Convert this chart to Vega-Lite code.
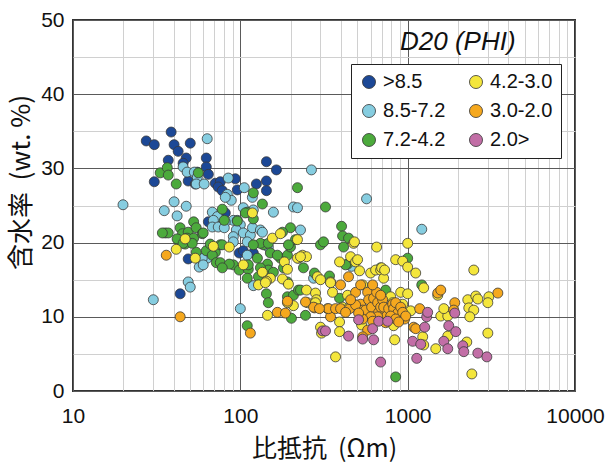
{
"$schema": "https://vega.github.io/schema/vega-lite/v6.json",
"width": 502, "height": 371,
"autosize": {"type": "none"},
"padding": {"left": 73, "top": 20, "right": 31, "bottom": 75},
"background": "white",
"title": {"text": "D20 (PHI)", "orient": "top", "anchor": "start", "frame": "group", "offset": 0, "dx": 327, "dy": 67, "baseline": "alphabetic", "font": "Liberation Sans", "fontSize": 26, "fontStyle": "italic", "fontWeight": "normal", "color": "#111"},
"data": {"values": [
{"res":27.4,"wc":33.7,"d20":">8.5"},{"res":30.6,"wc":33.2,"d20":">8.5"},{"res":38.6,"wc":34.9,"d20":">8.5"},{"res":40.2,"wc":33.2,"d20":">8.5"},{"res":42.5,"wc":32.3,"d20":">8.5"},{"res":50.2,"wc":33.4,"d20":">8.5"},{"res":37.1,"wc":31.1,"d20":">8.5"},{"res":47.5,"wc":31.4,"d20":">8.5"},{"res":45.5,"wc":30.7,"d20":">8.5"},{"res":62.6,"wc":31.4,"d20":">8.5"},{"res":62.6,"wc":30.2,"d20":">8.5"},{"res":64.4,"wc":29.2,"d20":">8.5"},{"res":55.3,"wc":29.5,"d20":">8.5"},{"res":30.6,"wc":28.2,"d20":">8.5"},{"res":48.8,"wc":28.3,"d20":">8.5"},{"res":53.8,"wc":27.9,"d20":">8.5"},{"res":70.9,"wc":28.0,"d20":">8.5"},{"res":75.9,"wc":28.2,"d20":">8.5"},{"res":73.8,"wc":27.5,"d20":">8.5"},{"res":78.0,"wc":27.0,"d20":">8.5"},{"res":93.3,"wc":28.6,"d20":">8.5"},{"res":95.9,"wc":27.1,"d20":">8.5"},{"res":124.7,"wc":27.9,"d20":">8.5"},{"res":143.2,"wc":30.9,"d20":">8.5"},{"res":164.3,"wc":29.8,"d20":">8.5"},{"res":143.2,"wc":28.3,"d20":">8.5"},{"res":143.2,"wc":27.0,"d20":">8.5"},{"res":64.4,"wc":22.8,"d20":">8.5"},{"res":81.3,"wc":24.0,"d20":">8.5"},{"res":48.8,"wc":17.8,"d20":">8.5"},{"res":43.7,"wc":13.1,"d20":">8.5"},{"res":98.6,"wc":18.6,"d20":">8.5"},{"res":104.2,"wc":18.9,"d20":">8.5"},{"res":119.6,"wc":18.6,"d20":">8.5"},
{"res":19.9,"wc":25.1,"d20":"8.5-7.2"},{"res":63.4,"wc":34.0,"d20":"8.5-7.2"},{"res":45.5,"wc":30.2,"d20":"8.5-7.2"},{"res":48.1,"wc":29.5,"d20":"8.5-7.2"},{"res":53.1,"wc":29.5,"d20":"8.5-7.2"},{"res":55.3,"wc":28.8,"d20":"8.5-7.2"},{"res":54.5,"wc":27.9,"d20":"8.5-7.2"},{"res":84.7,"wc":28.7,"d20":"8.5-7.2"},{"res":105.6,"wc":27.4,"d20":"8.5-7.2"},{"res":83.6,"wc":26.5,"d20":"8.5-7.2"},{"res":88.3,"wc":25.7,"d20":"8.5-7.2"},{"res":40.2,"wc":25.5,"d20":"8.5-7.2"},{"res":35.1,"wc":24.3,"d20":"8.5-7.2"},{"res":41.9,"wc":23.6,"d20":"8.5-7.2"},{"res":47.5,"wc":24.9,"d20":"8.5-7.2"},{"res":68.0,"wc":24.1,"d20":"8.5-7.2"},{"res":72.9,"wc":23.5,"d20":"8.5-7.2"},{"res":157.6,"wc":24.1,"d20":"8.5-7.2"},{"res":90.8,"wc":23.0,"d20":"8.5-7.2"},{"res":104.2,"wc":24.7,"d20":"8.5-7.2"},{"res":119.6,"wc":24.4,"d20":"8.5-7.2"},{"res":266,"wc":29.8,"d20":"8.5-7.2"},{"res":568,"wc":25.9,"d20":"8.5-7.2"},{"res":1214,"wc":21.8,"d20":"8.5-7.2"},{"res":60.8,"wc":27.9,"d20":"8.5-7.2"},{"res":58.4,"wc":17.4,"d20":"8.5-7.2"},{"res":56.8,"wc":16.7,"d20":"8.5-7.2"},{"res":63.4,"wc":17.9,"d20":"8.5-7.2"},{"res":81.3,"wc":26.1,"d20":"8.5-7.2"},{"res":118,"wc":26.1,"d20":"8.5-7.2"},{"res":69.0,"wc":23.0,"d20":"8.5-7.2"},{"res":81.3,"wc":22.8,"d20":"8.5-7.2"},{"res":68.0,"wc":22.1,"d20":"8.5-7.2"},{"res":73.8,"wc":22.1,"d20":"8.5-7.2"},{"res":80.2,"wc":22.0,"d20":"8.5-7.2"},{"res":95.9,"wc":23.0,"d20":"8.5-7.2"},{"res":100,"wc":22.4,"d20":"8.5-7.2"},{"res":94.6,"wc":21.7,"d20":"8.5-7.2"},{"res":104.2,"wc":21.3,"d20":"8.5-7.2"},{"res":114.8,"wc":21.0,"d20":"8.5-7.2"},{"res":118.2,"wc":22.0,"d20":"8.5-7.2"},{"res":131.8,"wc":21.7,"d20":"8.5-7.2"},{"res":135.5,"wc":21.4,"d20":"8.5-7.2"},{"res":90.8,"wc":20.8,"d20":"8.5-7.2"},{"res":90.8,"wc":20.1,"d20":"8.5-7.2"},{"res":110,"wc":20.1,"d20":"8.5-7.2"},{"res":141.2,"wc":19.7,"d20":"8.5-7.2"},{"res":147,"wc":19.4,"d20":"8.5-7.2"},{"res":59.2,"wc":17.9,"d20":"8.5-7.2"},{"res":60.0,"wc":17.0,"d20":"8.5-7.2"},{"res":207.6,"wc":24.8,"d20":"8.5-7.2"},{"res":228.8,"wc":21.7,"d20":"8.5-7.2"},{"res":219.5,"wc":24.7,"d20":"8.5-7.2"},{"res":462,"wc":16.8,"d20":"8.5-7.2"},{"res":30.2,"wc":12.3,"d20":"8.5-7.2"},{"res":48.8,"wc":14.7,"d20":"8.5-7.2"},{"res":50.2,"wc":14.0,"d20":"8.5-7.2"},{"res":100,"wc":11.1,"d20":"8.5-7.2"},{"res":119.6,"wc":14.2,"d20":"8.5-7.2"},{"res":110,"wc":18.3,"d20":"8.5-7.2"},{"res":274,"wc":15.2,"d20":"8.5-7.2"},
{"res":33.2,"wc":29.4,"d20":"7.2-4.2"},{"res":36.6,"wc":30.1,"d20":"7.2-4.2"},{"res":37.1,"wc":29.1,"d20":"7.2-4.2"},{"res":41.4,"wc":27.9,"d20":"7.2-4.2"},{"res":56.1,"wc":29.4,"d20":"7.2-4.2"},{"res":119.6,"wc":26.7,"d20":"7.2-4.2"},{"res":135.5,"wc":25.2,"d20":"7.2-4.2"},{"res":78.0,"wc":24.5,"d20":"7.2-4.2"},{"res":80.2,"wc":23.0,"d20":"7.2-4.2"},{"res":95.9,"wc":22.9,"d20":"7.2-4.2"},{"res":110,"wc":24.1,"d20":"7.2-4.2"},{"res":119.6,"wc":23.2,"d20":"7.2-4.2"},{"res":219.5,"wc":27.4,"d20":"7.2-4.2"},{"res":322.9,"wc":24.8,"d20":"7.2-4.2"},{"res":402.7,"wc":22.2,"d20":"7.2-4.2"},{"res":52.6,"wc":22.8,"d20":"7.2-4.2"},{"res":43.7,"wc":22.0,"d20":"7.2-4.2"},{"res":35.6,"wc":21.3,"d20":"7.2-4.2"},{"res":37.1,"wc":21.3,"d20":"7.2-4.2"},{"res":45.1,"wc":21.2,"d20":"7.2-4.2"},{"res":48.8,"wc":21.4,"d20":"7.2-4.2"},{"res":54.5,"wc":22.0,"d20":"7.2-4.2"},{"res":48.1,"wc":20.6,"d20":"7.2-4.2"},{"res":52.6,"wc":20.6,"d20":"7.2-4.2"},{"res":59.2,"wc":21.2,"d20":"7.2-4.2"},{"res":42.5,"wc":20.4,"d20":"7.2-4.2"},{"res":46.8,"wc":19.8,"d20":"7.2-4.2"},{"res":54.5,"wc":18.7,"d20":"7.2-4.2"},{"res":62.6,"wc":18.9,"d20":"7.2-4.2"},{"res":66.1,"wc":19.8,"d20":"7.2-4.2"},{"res":34.2,"wc":21.3,"d20":"7.2-4.2"},{"res":41.9,"wc":20.5,"d20":"7.2-4.2"},{"res":45.5,"wc":19.9,"d20":"7.2-4.2"},{"res":51.6,"wc":19.9,"d20":"7.2-4.2"},{"res":70.9,"wc":18.7,"d20":"7.2-4.2"},{"res":68.0,"wc":18.3,"d20":"7.2-4.2"},{"res":75.9,"wc":19.7,"d20":"7.2-4.2"},{"res":71.9,"wc":17.3,"d20":"7.2-4.2"},{"res":75.9,"wc":17.3,"d20":"7.2-4.2"},{"res":90.8,"wc":17.0,"d20":"7.2-4.2"},{"res":85.9,"wc":17.1,"d20":"7.2-4.2"},{"res":98.6,"wc":16.3,"d20":"7.2-4.2"},{"res":111.6,"wc":16.4,"d20":"7.2-4.2"},{"res":110,"wc":15.2,"d20":"7.2-4.2"},{"res":126.5,"wc":17.9,"d20":"7.2-4.2"},{"res":128.3,"wc":15.4,"d20":"7.2-4.2"},{"res":137.3,"wc":19.7,"d20":"7.2-4.2"},{"res":145.3,"wc":17.1,"d20":"7.2-4.2"},{"res":147,"wc":16.3,"d20":"7.2-4.2"},{"res":157.6,"wc":16.0,"d20":"7.2-4.2"},{"res":143.2,"wc":13.1,"d20":"7.2-4.2"},{"res":147,"wc":11.9,"d20":"7.2-4.2"},{"res":173.6,"wc":17.9,"d20":"7.2-4.2"},{"res":191.2,"wc":18.3,"d20":"7.2-4.2"},{"res":181,"wc":16.6,"d20":"7.2-4.2"},{"res":191.2,"wc":14.7,"d20":"7.2-4.2"},{"res":199.3,"wc":19.4,"d20":"7.2-4.2"},{"res":213.5,"wc":20.4,"d20":"7.2-4.2"},{"res":191.2,"wc":12.7,"d20":"7.2-4.2"},{"res":207.6,"wc":12.9,"d20":"7.2-4.2"},{"res":222.5,"wc":13.6,"d20":"7.2-4.2"},{"res":202,"wc":9.8,"d20":"7.2-4.2"},{"res":110,"wc":8.8,"d20":"7.2-4.2"},{"res":408.3,"wc":20.9,"d20":"7.2-4.2"},{"res":443.3,"wc":20.6,"d20":"7.2-4.2"},{"res":301.4,"wc":19.7,"d20":"7.2-4.2"},{"res":314.1,"wc":20.1,"d20":"7.2-4.2"},{"res":414,"wc":19.4,"d20":"7.2-4.2"},{"res":437.4,"wc":17.1,"d20":"7.2-4.2"},{"res":238.3,"wc":16.6,"d20":"7.2-4.2"},{"res":277.4,"wc":15.9,"d20":"7.2-4.2"},{"res":341,"wc":15.5,"d20":"7.2-4.2"},{"res":228.8,"wc":13.6,"d20":"7.2-4.2"},{"res":391.7,"wc":12.5,"d20":"7.2-4.2"},{"res":689.4,"wc":16.6,"d20":"7.2-4.2"},{"res":738.6,"wc":13.6,"d20":"7.2-4.2"},{"res":1000,"wc":17.9,"d20":"7.2-4.2"},{"res":475,"wc":11.7,"d20":"7.2-4.2"},{"res":1214,"wc":14.3,"d20":"7.2-4.2"},{"res":245.1,"wc":10.2,"d20":"7.2-4.2"},{"res":847.8,"wc":1.9,"d20":"7.2-4.2"},{"res":107.1,"wc":24.0,"d20":"7.2-4.2"},{"res":60.0,"wc":21.3,"d20":"7.2-4.2"},{"res":78.0,"wc":19.7,"d20":"7.2-4.2"},{"res":131.8,"wc":19.9,"d20":"7.2-4.2"},{"res":147,"wc":19.9,"d20":"7.2-4.2"},{"res":193.9,"wc":19.7,"d20":"7.2-4.2"},{"res":199.3,"wc":22.0,"d20":"7.2-4.2"},{"res":178.5,"wc":21.4,"d20":"7.2-4.2"},{"res":151.2,"wc":18.6,"d20":"7.2-4.2"},{"res":166.5,"wc":18.3,"d20":"7.2-4.2"},{"res":78.0,"wc":16.6,"d20":"7.2-4.2"},{"res":111.6,"wc":17.0,"d20":"7.2-4.2"},{"res":131.8,"wc":16.6,"d20":"7.2-4.2"},{"res":119.6,"wc":19.7,"d20":"7.2-4.2"},{"res":222.5,"wc":17.9,"d20":"7.2-4.2"},{"res":425.5,"wc":17.0,"d20":"7.2-4.2"},
{"res":118.1,"wc":24.0,"d20":"4.2-3.0"},{"res":46.8,"wc":20.5,"d20":"4.2-3.0"},{"res":41.4,"wc":19.1,"d20":"4.2-3.0"},{"res":53.8,"wc":17.9,"d20":"4.2-3.0"},{"res":69.0,"wc":19.5,"d20":"4.2-3.0"},{"res":85.9,"wc":19.4,"d20":"4.2-3.0"},{"res":104.2,"wc":17.0,"d20":"4.2-3.0"},{"res":135.5,"wc":16.0,"d20":"4.2-3.0"},{"res":151.2,"wc":15.2,"d20":"4.2-3.0"},{"res":143.2,"wc":14.8,"d20":"4.2-3.0"},{"res":128.3,"wc":14.3,"d20":"4.2-3.0"},{"res":178.5,"wc":15.1,"d20":"4.2-3.0"},{"res":193.9,"wc":14.4,"d20":"4.2-3.0"},{"res":183.4,"wc":17.4,"d20":"4.2-3.0"},{"res":191.2,"wc":16.4,"d20":"4.2-3.0"},{"res":155.4,"wc":20.6,"d20":"4.2-3.0"},{"res":173.6,"wc":21.2,"d20":"4.2-3.0"},{"res":219.5,"wc":20.4,"d20":"4.2-3.0"},{"res":219.5,"wc":17.9,"d20":"4.2-3.0"},{"res":145.3,"wc":10.2,"d20":"4.2-3.0"},{"res":207.6,"wc":11.5,"d20":"4.2-3.0"},{"res":191.2,"wc":11.9,"d20":"4.2-3.0"},{"res":235.2,"wc":18.3,"d20":"4.2-3.0"},{"res":248.5,"wc":18.1,"d20":"4.2-3.0"},{"res":475,"wc":19.9,"d20":"4.2-3.0"},{"res":652.5,"wc":19.4,"d20":"4.2-3.0"},{"res":1000,"wc":19.9,"d20":"4.2-3.0"},{"res":391.7,"wc":17.4,"d20":"4.2-3.0"},{"res":455.9,"wc":18.1,"d20":"4.2-3.0"},{"res":488.4,"wc":17.4,"d20":"4.2-3.0"},{"res":516,"wc":16.2,"d20":"4.2-3.0"},{"res":600.6,"wc":15.9,"d20":"4.2-3.0"},{"res":643.5,"wc":16.3,"d20":"4.2-3.0"},{"res":689.4,"wc":16.3,"d20":"4.2-3.0"},{"res":718.5,"wc":15.2,"d20":"4.2-3.0"},{"res":847.8,"wc":17.7,"d20":"4.2-3.0"},{"res":934,"wc":17.5,"d20":"4.2-3.0"},{"res":1000,"wc":16.7,"d20":"4.2-3.0"},{"res":1117,"wc":15.9,"d20":"4.2-3.0"},{"res":1247,"wc":13.9,"d20":"4.2-3.0"},{"res":289,"wc":15.4,"d20":"4.2-3.0"},{"res":301.4,"wc":15.0,"d20":"4.2-3.0"},{"res":345.9,"wc":14.7,"d20":"4.2-3.0"},{"res":355.6,"wc":13.3,"d20":"4.2-3.0"},{"res":248.5,"wc":13.6,"d20":"4.2-3.0"},{"res":281.3,"wc":13.2,"d20":"4.2-3.0"},{"res":285,"wc":12.3,"d20":"4.2-3.0"},{"res":252,"wc":11.9,"d20":"4.2-3.0"},{"res":908.3,"wc":13.3,"d20":"4.2-3.0"},{"res":1000,"wc":13.1,"d20":"4.2-3.0"},{"res":791.3,"wc":12.7,"d20":"4.2-3.0"},{"res":813.5,"wc":11.9,"d20":"4.2-3.0"},{"res":538,"wc":14.3,"d20":"4.2-3.0"},{"res":408.3,"wc":11.3,"d20":"4.2-3.0"},{"res":332,"wc":11.1,"d20":"4.2-3.0"},{"res":443.3,"wc":11.2,"d20":"4.2-3.0"},{"res":934,"wc":11.7,"d20":"4.2-3.0"},{"res":1042,"wc":10.8,"d20":"4.2-3.0"},{"res":1577,"wc":10.1,"d20":"4.2-3.0"},{"res":1736,"wc":10.1,"d20":"4.2-3.0"},{"res":1644,"wc":11.1,"d20":"4.2-3.0"},{"res":1513,"wc":12.9,"d20":"4.2-3.0"},{"res":2287,"wc":12.3,"d20":"4.2-3.0"},{"res":2319,"wc":11.2,"d20":"4.2-3.0"},{"res":2484,"wc":10.9,"d20":"4.2-3.0"},{"res":2554,"wc":12.8,"d20":"4.2-3.0"},{"res":2626,"wc":12.4,"d20":"4.2-3.0"},{"res":3056,"wc":12.7,"d20":"4.2-3.0"},{"res":3014,"wc":11.9,"d20":"4.2-3.0"},{"res":2351,"wc":10.0,"d20":"4.2-3.0"},{"res":2484,"wc":16.3,"d20":"4.2-3.0"},{"res":301.4,"wc":8.6,"d20":"4.2-3.0"},{"res":391.7,"wc":9.3,"d20":"4.2-3.0"},{"res":391.7,"wc":8.0,"d20":"4.2-3.0"},{"res":824.5,"wc":8.8,"d20":"4.2-3.0"},{"res":530.6,"wc":8.9,"d20":"4.2-3.0"},{"res":836,"wc":6.9,"d20":"4.2-3.0"},{"res":1230,"wc":7.3,"d20":"4.2-3.0"},{"res":1736,"wc":7.4,"d20":"4.2-3.0"},{"res":1472,"wc":5.7,"d20":"4.2-3.0"},{"res":2256,"wc":6.6,"d20":"4.2-3.0"},{"res":3014,"wc":7.8,"d20":"4.2-3.0"},{"res":370.7,"wc":4.6,"d20":"4.2-3.0"},{"res":2418,"wc":2.3,"d20":"4.2-3.0"},{"res":1247,"wc":6.2,"d20":"4.2-3.0"},{"res":141.2,"wc":14.6,"d20":"4.2-3.0"},{"res":228.8,"wc":18.1,"d20":"4.2-3.0"},{"res":481,"wc":20.1,"d20":"4.2-3.0"},{"res":502,"wc":17.7,"d20":"4.2-3.0"},{"res":699,"wc":16.6,"d20":"4.2-3.0"},{"res":345.9,"wc":14.6,"d20":"4.2-3.0"},{"res":281.3,"wc":11.9,"d20":"4.2-3.0"},{"res":437.4,"wc":12.9,"d20":"4.2-3.0"},{"res":728,"wc":16.3,"d20":"4.2-3.0"},{"res":305.6,"wc":7.8,"d20":"4.2-3.0"},
{"res":36.1,"wc":18.3,"d20":"3.0-2.0"},{"res":43.7,"wc":10.0,"d20":"3.0-2.0"},{"res":114.8,"wc":7.8,"d20":"3.0-2.0"},{"res":166.5,"wc":10.6,"d20":"3.0-2.0"},{"res":186,"wc":10.5,"d20":"3.0-2.0"},{"res":191.2,"wc":12.1,"d20":"3.0-2.0"},{"res":277.4,"wc":11.2,"d20":"3.0-2.0"},{"res":345.9,"wc":10.0,"d20":"3.0-2.0"},{"res":336.5,"wc":11.1,"d20":"3.0-2.0"},{"res":370.7,"wc":11.1,"d20":"3.0-2.0"},{"res":397.2,"wc":11.1,"d20":"3.0-2.0"},{"res":449.6,"wc":11.1,"d20":"3.0-2.0"},{"res":443.3,"wc":15.4,"d20":"3.0-2.0"},{"res":488.4,"wc":13.3,"d20":"3.0-2.0"},{"res":523.3,"wc":11.7,"d20":"3.0-2.0"},{"res":538,"wc":10.9,"d20":"3.0-2.0"},{"res":545.6,"wc":10.0,"d20":"3.0-2.0"},{"res":560.6,"wc":10.9,"d20":"3.0-2.0"},{"res":576.4,"wc":13.3,"d20":"3.0-2.0"},{"res":584.4,"wc":12.3,"d20":"3.0-2.0"},{"res":609,"wc":11.3,"d20":"3.0-2.0"},{"res":626,"wc":12.5,"d20":"3.0-2.0"},{"res":652.5,"wc":13.3,"d20":"3.0-2.0"},{"res":661.6,"wc":11.9,"d20":"3.0-2.0"},{"res":670.9,"wc":10.6,"d20":"3.0-2.0"},{"res":689.4,"wc":11.3,"d20":"3.0-2.0"},{"res":708.7,"wc":12.3,"d20":"3.0-2.0"},{"res":718.5,"wc":11.3,"d20":"3.0-2.0"},{"res":748.9,"wc":10.1,"d20":"3.0-2.0"},{"res":769.9,"wc":11.1,"d20":"3.0-2.0"},{"res":813.5,"wc":11.7,"d20":"3.0-2.0"},{"res":824.5,"wc":11.1,"d20":"3.0-2.0"},{"res":847.8,"wc":11.9,"d20":"3.0-2.0"},{"res":871.5,"wc":10.5,"d20":"3.0-2.0"},{"res":908.3,"wc":11.3,"d20":"3.0-2.0"},{"res":934,"wc":10.6,"d20":"3.0-2.0"},{"res":960,"wc":9.7,"d20":"3.0-2.0"},{"res":973.1,"wc":10.1,"d20":"3.0-2.0"},{"res":661.6,"wc":10.0,"d20":"3.0-2.0"},{"res":791.3,"wc":10.1,"d20":"3.0-2.0"},{"res":600.6,"wc":10.0,"d20":"3.0-2.0"},{"res":538,"wc":9.7,"d20":"3.0-2.0"},{"res":1086,"wc":8.6,"d20":"3.0-2.0"},{"res":1117,"wc":8.4,"d20":"3.0-2.0"},{"res":576.4,"wc":8.2,"d20":"3.0-2.0"},{"res":538,"wc":7.3,"d20":"3.0-2.0"},{"res":1513,"wc":13.2,"d20":"3.0-2.0"},{"res":1577,"wc":13.6,"d20":"3.0-2.0"},{"res":1912,"wc":11.9,"d20":"3.0-2.0"},{"res":1886,"wc":10.9,"d20":"3.0-2.0"},{"res":3459,"wc":13.2,"d20":"3.0-2.0"},{"res":274,"wc":11.3,"d20":"3.0-2.0"},{"res":245.1,"wc":12.0,"d20":"3.0-2.0"},{"res":297,"wc":11.1,"d20":"3.0-2.0"},{"res":397.2,"wc":14.3,"d20":"3.0-2.0"},{"res":523.3,"wc":14.3,"d20":"3.0-2.0"},{"res":1180,"wc":11.1,"d20":"3.0-2.0"},{"res":425.5,"wc":10.6,"d20":"3.0-2.0"},{"res":488.4,"wc":11.6,"d20":"3.0-2.0"},{"res":509,"wc":10.5,"d20":"3.0-2.0"},{"res":617.5,"wc":9.4,"d20":"3.0-2.0"},{"res":738.6,"wc":9.2,"d20":"3.0-2.0"},{"res":847.8,"wc":9.7,"d20":"3.0-2.0"},{"res":455.9,"wc":12.3,"d20":"3.0-2.0"},{"res":617.5,"wc":14.3,"d20":"3.0-2.0"},{"res":689.4,"wc":12.9,"d20":"3.0-2.0"},{"res":883,"wc":9.3,"d20":"3.0-2.0"},
{"res":310,"wc":8.1,"d20":"2.0>"},{"res":322.9,"wc":8.1,"d20":"2.0>"},{"res":443.3,"wc":7.4,"d20":"2.0>"},{"res":509,"wc":9.6,"d20":"2.0>"},{"res":538,"wc":7.0,"d20":"2.0>"},{"res":617.5,"wc":8.4,"d20":"2.0>"},{"res":626,"wc":6.9,"d20":"2.0>"},{"res":670.9,"wc":9.4,"d20":"2.0>"},{"res":689.4,"wc":3.9,"d20":"2.0>"},{"res":759,"wc":9.4,"d20":"2.0>"},{"res":1071,"wc":6.7,"d20":"2.0>"},{"res":1197,"wc":6.3,"d20":"2.0>"},{"res":1264,"wc":8.6,"d20":"2.0>"},{"res":1299,"wc":10.0,"d20":"2.0>"},{"res":1317,"wc":10.6,"d20":"2.0>"},{"res":1133,"wc":4.4,"d20":"2.0>"},{"res":1644,"wc":6.7,"d20":"2.0>"},{"res":1736,"wc":5.7,"d20":"2.0>"},{"res":1760,"wc":8.8,"d20":"2.0>"},{"res":1912,"wc":10.5,"d20":"2.0>"},{"res":1939,"wc":8.0,"d20":"2.0>"},{"res":2135,"wc":6.1,"d20":"2.0>"},{"res":2165,"wc":5.3,"d20":"2.0>"},{"res":2626,"wc":5.1,"d20":"2.0>"},{"res":2973,"wc":4.6,"d20":"2.0>"}
]},
"mark": {"type": "circle", "size": 100, "stroke": "#3a3a3a", "strokeWidth": 0.8, "opacity": 1},
"encoding": {
  "x": {"field": "res", "type": "quantitative", "title": "比抵抗\u00a0\u00a0(Ωm)",
    "scale": {"type": "log", "domain": [10, 10000], "nice": false},
    "axis": {"values": [10,20,30,40,50,60,70,80,90,100,200,300,400,500,600,700,800,900,1000,2000,3000,4000,5000,6000,7000,8000,9000,10000],
      "format": "d", "labelExpr": "indexof([10,100,1000,10000], datum.value) >= 0 ? datum.label : ''",
      "gridColor": {"condition": {"test": "indexof([10,100,1000,10000], datum.value) >= 0", "value": "#5a5a5a"}, "value": "#d0d0d0"},
      "labelFlush": false, "labelOverlap": false, "labelPadding": 14, "titlePadding": 10, "titleFontSize": 25}},
  "y": {"field": "wc", "type": "quantitative", "title": "含水率\u00a0\u00a0(wt.\u00a0%)",
    "scale": {"domain": [0, 50], "nice": false},
    "axis": {"values": [0,5,10,15,20,25,30,35,40,45,50],
      "labelExpr": "datum.value % 10 === 0 ? datum.label : ''",
      "gridColor": {"condition": {"test": "datum.value % 10 === 0", "value": "#5a5a5a"}, "value": "#d0d0d0"},
      "labelFlush": false, "labelOverlap": false, "labelPadding": 9, "titlePadding": 6, "titleY": 162}},
  "color": {"field": "d20", "type": "nominal",
    "scale": {"domain": [">8.5", "8.5-7.2", "7.2-4.2", "4.2-3.0", "3.0-2.0", "2.0>"],
              "range": ["#1c4896", "#86cde0", "#4caa3c", "#f4e63c", "#f5a81e", "#c26ea6"]},
    "legend": {"orient": "none", "legendX": 278, "legendY": 44, "columns": 2, "title": null,
      "fillColor": "white", "strokeColor": "#222", "padding": 8,
      "symbolType": "circle", "symbolSize": 170, "symbolStrokeColor": "#333", "symbolStrokeWidth": 0.8, "symbolOpacity": 1,
      "labelFont": "Liberation Sans", "labelFontSize": 20, "labelColor": "#111", "labelOffset": 4,
      "rowPadding": 9, "columnPadding": 20, "labelLimit": 200}}
},
"config": {
  "view": {"stroke": "#333", "strokeWidth": 2},
  "axis": {"ticks": false, "domain": false, "grid": true, "gridWidth": 1, "gridOpacity": 1,
    "labelFont": "Liberation Sans Narrow, Liberation Sans, sans-serif", "labelFontSize": 21, "labelColor": "#111",
    "titleFont": "Noto Sans CJK JP", "titleFontSize": 26, "titleFontWeight": "normal", "titleColor": "#111"}
}
}
